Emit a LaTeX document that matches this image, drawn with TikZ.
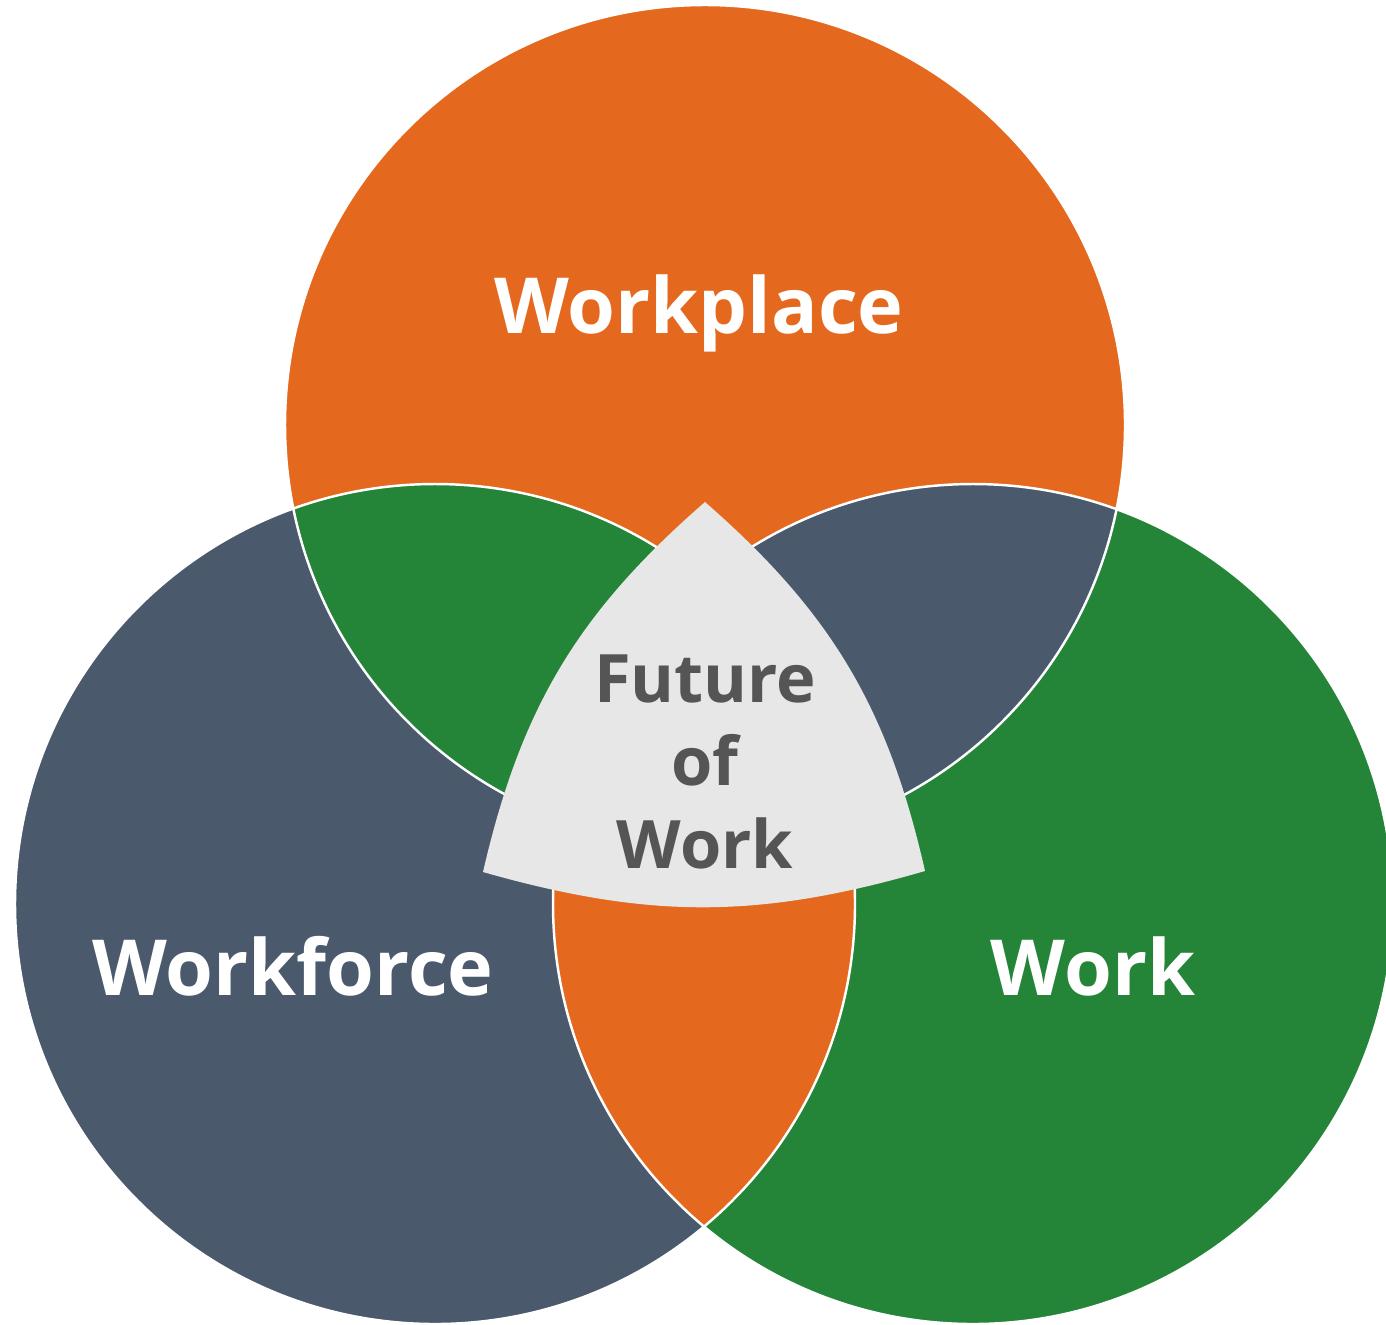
\documentclass[tikz,border=0pt]{standalone}
\usepackage{fontspec}
\setmainfont{Open Sans}
\definecolor{placeorange}{RGB}{228,105,30}
\definecolor{forceslate}{RGB}{74,89,108}
\definecolor{workgreen}{RGB}{36,132,56}
\definecolor{coregray}{RGB}{231,231,231}
\definecolor{coretext}{RGB}{85,85,85}
\tikzset{
  bigword/.style={text=white,font=\bfseries\fontsize{22}{27}\selectfont,anchor=base},
  coreword/.style={text=coretext,font=\bfseries\fontsize{19}{23.6}\selectfont,align=center,anchor=base},
  seam/.style={draw=white,line width=0.7pt}
}
\begin{document}
\begin{tikzpicture}[x=0.01cm,y=-0.01cm]
                \useasboundingbox (0,0) rectangle (1386,1324);
                \coordinate (ctop) at (705,425);
                \coordinate (cleft) at (435,904);
                \coordinate (cright) at (973,904);
                % the three circles
                \fill[placeorange] (ctop) circle[radius=420];
                \fill[forceslate] (cleft) circle[radius=420];
                \fill[workgreen] (cright) circle[radius=420];
                % lenses take the colour of the third circle
                \begin{scope}
                    \clip (ctop) circle[radius=420];
                    \fill[workgreen] (cleft) circle[radius=420];
                \end{scope}
                \begin{scope}
                    \clip (ctop) circle[radius=420];
                    \fill[forceslate] (cright) circle[radius=420];
                \end{scope}
                \begin{scope}
                    \clip (cleft) circle[radius=420];
                    \fill[placeorange] (cright) circle[radius=420];
                \end{scope}
                \draw[seam] (ctop) circle[radius=420] (cleft) circle[radius=420] (cright) circle[radius=420];
                % curved triangle in the middle
                \coordinate (fa) at (705,502);
                \coordinate (fb) at (483,872);
                \coordinate (fc) at (925,871);
                \fill[coregray] (fa) to[bend right=18] (fb) to[bend right=16] (fc) to[bend right=18] (fa) -- cycle;
                \node[bigword] (workplace) at (699,333) {Workplace};
                \node[bigword] (workforce) at (293,995) {Workforce};
                \node[bigword] (work) at (1093,995) {Work};
                \node[coreword] (future) at (705,868) {Future\\of\\Work};
            \end{tikzpicture}
\end{document}
